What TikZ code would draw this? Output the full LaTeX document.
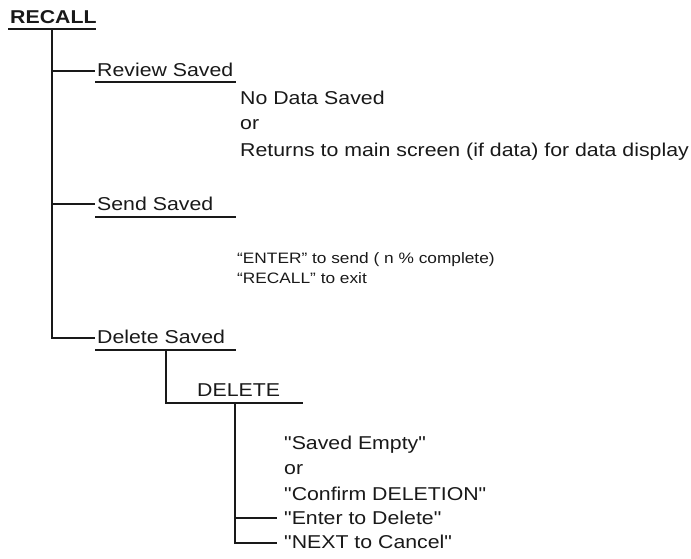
\documentclass[tikz,border=0pt]{standalone}
\usepackage{fontspec}
\setmainfont[FakeStretch=1.145, Ligatures=TeXOff]{Liberation Sans}
\begin{document}
\begin{tikzpicture}[x=1pt,y=-1pt,
  wire/.style={line width=1.5pt, color=black!90},
  big/.style={font=\fontsize{18.6}{22}\selectfont, inner sep=0pt, anchor=base west, text=black!90},
  small/.style={font=\fontsize{15.1}{18}\selectfont, inner sep=0pt, anchor=base west, text=black!90}]
\useasboundingbox (0,0) rectangle (691,559);

% root
\node[big, font=\fontsize{18.6}{22}\selectfont\bfseries] (recall) at (10,24) {RECALL};
\coordinate (rl) at (8,29);
\coordinate (rr) at (96,29);
\coordinate (trunktop) at (52,29);

% level 1 labels
\node[big] (review) at (97,77) {Review Saved};
\node[big] (send) at (97,210) {Send Saved};
\node[big] (delsaved) at (97,343) {Delete Saved};

\coordinate (j1) at (52,71);  \coordinate (e1) at (95,71);
\coordinate (u1a) at (95,82); \coordinate (u1b) at (236,82);
\coordinate (j2) at (52,204); \coordinate (e2) at (95,204);
\coordinate (u2a) at (95,217); \coordinate (u2b) at (236,217);
\coordinate (j3) at (52,338); \coordinate (e3) at (95,338);
\coordinate (u3a) at (95,350); \coordinate (u3b) at (236,350);

% review text
\node[big] (nodata) at (240,105) {No Data Saved};
\node[big] (or1) at (240,130) {or};
\node[big] (returns) at (240,157) {Returns to main screen (if data) for data display};

% send text
\node[small] (enter) at (237,263) {“ENTER” to send ( n \% complete)};
\node[small] (exit) at (237,283) {“RECALL” to exit};

% delete
\coordinate (d0) at (166,350);
\coordinate (d1) at (166,403);
\coordinate (d2) at (303,403);
\node[big] (delete) at (197,396) {DELETE};

\coordinate (v0) at (235,403);
\coordinate (v1) at (235,518); \coordinate (w1) at (277,518);
\coordinate (v2) at (235,543); \coordinate (w2) at (277,543);

\node[big] (empty) at (284,449) {"Saved Empty"};
\node[big] (or2) at (284,474) {or};
\node[big] (confirm) at (284,500) {"Confirm DELETION"};
\node[big] (entdel) at (284,524) {"Enter to Delete"};
\node[big] (cancel) at (284,548) {"NEXT to Cancel"};

% wires
\draw[wire] (rl) -- (rr);
\draw[wire] (trunktop) -- (j3) -- (e3);
\draw[wire] (j1) -- (e1);
\draw[wire] (j2) -- (e2);
\draw[wire] (u1a) -- (u1b);
\draw[wire] (u2a) -- (u2b);
\draw[wire] (u3a) -- (u3b);
\draw[wire] (d0) -- (d1) -- (d2);
\draw[wire] (v0) -- (v2) -- (w2);
\draw[wire] (v1) -- (w1);
\end{tikzpicture}
\end{document}
